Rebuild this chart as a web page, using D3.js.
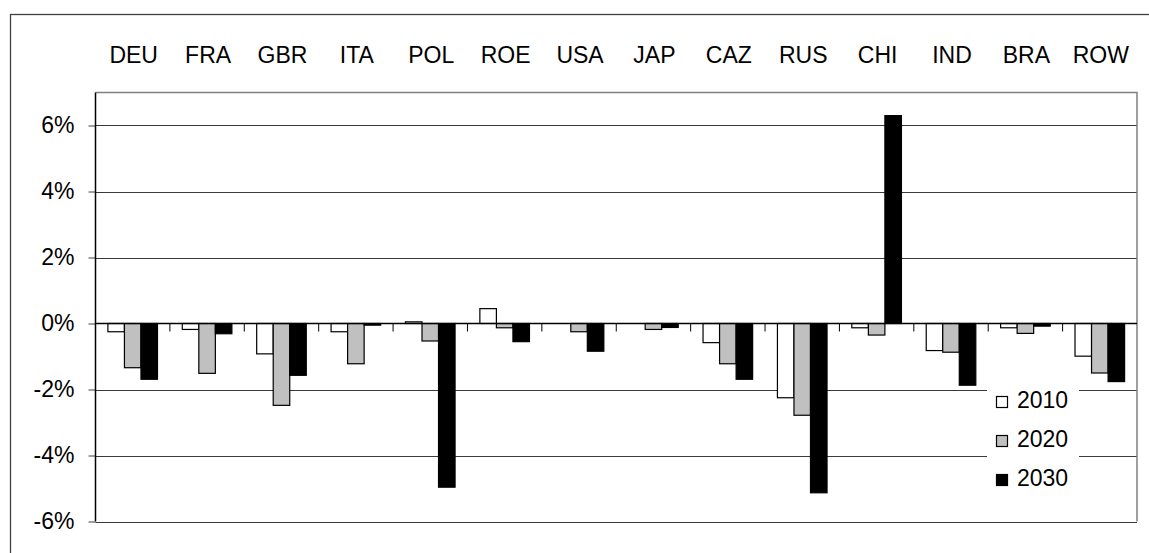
<!DOCTYPE html>
<html><head><meta charset="utf-8">
<script src="https://cdn.jsdelivr.net/npm/d3@7"></script>
<style>
html,body{margin:0;padding:0;background:#fff;}
text{font-family:"Liberation Sans",Arial,sans-serif;fill:#000;}
</style></head>
<body><svg id="c" width="1149" height="553"></svg>
<script>
const categories = ["DEU","FRA","GBR","ITA","POL","ROE","USA","JAP","CAZ","RUS","CHI","IND","BRA","ROW"];
const years = ["2010","2020","2030"];
const v2010 = [-0.25,-0.18,-0.92,-0.25, 0.05, 0.45, 0.00, 0.00,-0.58,-2.25,-0.13,-0.82,-0.13,-0.99];
const v2020 = [-1.34,-1.51,-2.48,-1.22,-0.53,-0.13,-0.25,-0.18,-1.22,-2.78,-0.35,-0.87,-0.30,-1.50];
const v2030 = [-1.69,-0.31,-1.57,-0.05,-4.96,-0.55,-0.84,-0.12,-1.69,-5.13, 6.30,-1.87,-0.08,-1.76];
const yTicks = [-6,-4,-2,0,2,4,6];
const colors = ["#ffffff","#c0c0c0","#000000"];

const series = [v2010, v2020, v2030];
const svg = d3.select("#c");
const L = 95.5, R = 1137, T = 92.5, B = 521.5;

// outer frame
svg.append("rect").attr("x",10.5).attr("y",14.5).attr("width",1200).attr("height",600)
  .attr("fill","#fff").attr("stroke","#404040").attr("stroke-width",1.3);

const x0 = d3.scaleBand().domain(categories).range([L, R]).paddingInner(0).paddingOuter(0);
const x1 = d3.scaleBand().domain(years).range([0, x0.bandwidth()]).paddingInner(0).paddingOuter(0.75);
const y = d3.scaleLinear().domain([-6, 7]).range([B, T]);

// gridlines
svg.append("g").selectAll("line").data(yTicks.filter(d=>d!==0)).join("line")
  .attr("x1", L).attr("x2", R)
  .attr("y1", d => Math.round(y(d))+0.5).attr("y2", d => Math.round(y(d))+0.5)
  .attr("stroke","#3a3a3a").attr("stroke-width",1);

// plot border (top/right gray)
svg.append("path").attr("d",`M${L},${T}H${R}V${B}`).attr("fill","none")
  .attr("stroke","#808080").attr("stroke-width",1.5);

// bars
const g = svg.append("g");
categories.forEach((c, i) => {
  years.forEach((yr, j) => {
    const v = series[j][i];
    g.append("rect")
      .attr("x", x0(c) + x1(yr))
      .attr("width", x1.bandwidth())
      .attr("y", y(Math.max(0, v)))
      .attr("height", Math.abs(y(v) - y(0)))
      .attr("fill", colors[j])
      .attr("stroke", "#000").attr("stroke-width", 1.2);
  });
});

// y axis
const yAxis = d3.axisLeft(y).tickValues(yTicks).tickSize(7).tickPadding(14).tickFormat(d => d + "%");
const ya = svg.append("g").attr("transform",`translate(${L},0)`).call(yAxis);
ya.select(".domain").remove();
ya.selectAll(".tick line").attr("stroke","#404040");
ya.selectAll(".tick text").attr("font-size","23px").attr("font-family","Liberation Sans, Arial, sans-serif").attr("fill","#000");
svg.append("line").attr("x1",L).attr("x2",L).attr("y1",T).attr("y2",B).attr("stroke","#000").attr("stroke-width",1.5);

// zero axis with category tick marks below
svg.append("line").attr("x1",L).attr("x2",R).attr("y1",y(0)).attr("y2",y(0)).attr("stroke","#000").attr("stroke-width",1.3);
const bounds = categories.map(c => x0(c)).slice(1);
svg.append("g").selectAll("line").data(bounds).join("line")
  .attr("x1", d=>d).attr("x2", d=>d).attr("y1", y(0)).attr("y2", y(0)+8)
  .attr("stroke","#000").attr("stroke-width",1);

// category labels at top
svg.append("g").selectAll("text").data(categories).join("text")
  .attr("x", d => x0(d) + x0.bandwidth()/2 + 1)
  .attr("y", 62.5)
  .attr("text-anchor","middle").attr("font-size","23px")
  .text(d => d);

// legend
const lg = svg.append("g");
lg.append("rect").attr("x",987).attr("y",384).attr("width",92).attr("height",124).attr("fill","#fff");
years.forEach((yr, j) => {
  const yy = 396.5 + j*39;
  lg.append("rect").attr("x",996.5).attr("y",yy).attr("width",11).attr("height",11)
    .attr("fill",colors[j]).attr("stroke","#000").attr("stroke-width",1.2);
  lg.append("text").attr("x",1017).attr("y",yy+11).attr("font-size","23px").text(yr);
});
</script></body></html>
